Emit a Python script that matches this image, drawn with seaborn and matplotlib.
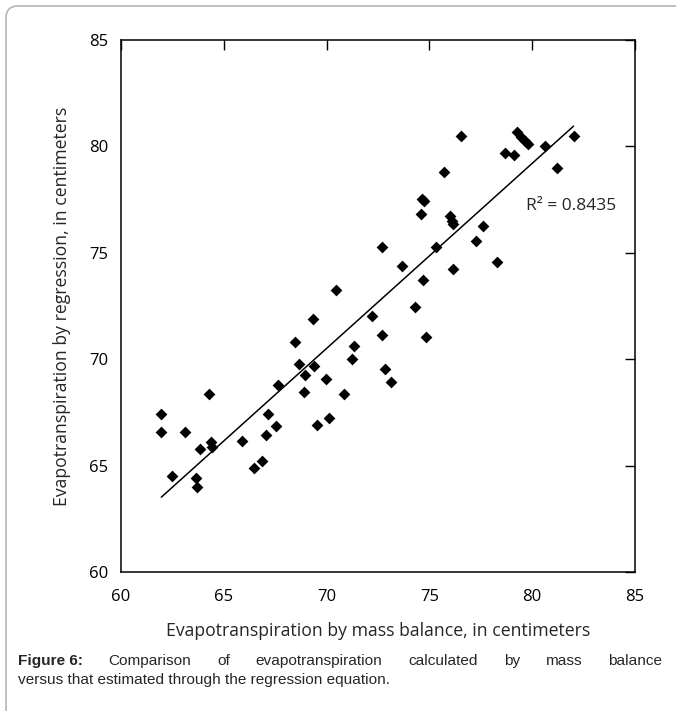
import numpy as np
import pandas as pd
import seaborn as sns
import matplotlib.pyplot as plt
from matplotlib.patches import FancyBboxPatch

# values (cm)
mass_balance = [61.96, 61.96, 62.46, 63.10, 63.63, 63.72, 63.84, 64.27, 64.39, 64.42,
                65.90, 66.45, 66.85, 67.07, 67.15, 67.55, 67.65, 68.46, 68.66, 68.91,
                68.96, 69.33, 69.38, 69.55, 69.95, 70.12, 70.47, 70.84, 71.22, 71.34,
                72.23, 72.68, 72.68, 72.85, 73.13, 73.69, 74.32, 74.57, 74.62, 74.76,
                74.69, 74.82, 75.33, 75.70, 76.00, 76.08, 76.16, 76.15, 76.53, 77.25,
                77.59, 78.29, 78.68, 79.13, 79.25, 79.46, 79.63, 79.80, 80.64, 81.19,
                82.01]
regression = [67.43, 66.59, 64.50, 66.59, 64.41, 63.99, 65.79, 68.36, 66.12, 65.87,
              66.14, 64.87, 65.22, 66.46, 67.43, 66.88, 68.78, 70.79, 69.78, 68.44,
              69.24, 71.91, 69.70, 66.93, 69.08, 67.23, 73.27, 68.36, 70.03, 70.62,
              72.01, 75.29, 71.12, 69.56, 68.94, 74.40, 72.47, 76.83, 77.55, 77.42,
              73.72, 71.04, 75.27, 78.81, 76.71, 76.49, 76.33, 74.26, 80.47, 75.57,
              76.24, 74.56, 79.70, 79.60, 80.69, 80.44, 80.27, 80.10, 80.02, 78.98,
              80.47]
r2_text = "R\u00b2 = 0.8435"
ticks = [60, 65, 70, 75, 80, 85]

df = pd.DataFrame({"mass": mass_balance, "regr": regression})

sns.set_theme(style="white")
plt.rcParams["font.family"] = ["Open Sans", "DejaVu Sans"]

fig = plt.figure(figsize=(6.76, 7.11), dpi=100)
ax = fig.add_axes([121 / 676, 139 / 711, 514 / 676, 532 / 711])

sns.regplot(data=df, x="mass", y="regr", ax=ax, ci=None, truncate=True, marker="D",
            scatter_kws=dict(s=36, color="black", linewidths=0, alpha=1),
            line_kws=dict(color="black", lw=1.1))

ax.set_xlim(60, 85)
ax.set_ylim(60, 85)
ax.set_xticks(ticks)
ax.set_yticks(ticks)
for sp in ax.spines.values():
    sp.set_color("black")
    sp.set_linewidth(1.1)
ax.tick_params(direction="in", length=7, width=1, color="black", labelsize=12,
               top=True, right=True, labelcolor="black")
ax.tick_params(axis="x", pad=12.5)
ax.tick_params(axis="y", pad=9)

ax.set_xlabel("Evapotranspiration by mass balance, in centimeters", fontsize=12.7, labelpad=12)
ax.set_ylabel("Evapotranspiration by regression, in centimeters", fontsize=12.7, labelpad=13)

ax.text(79.68, 77.2, r2_text, fontsize=12.5, va="center", ha="left")

# caption, first line justified
fig.canvas.draw()
rend = fig.canvas.get_renderer()
cap = "Liberation Sans"
words = [("Figure 6:", "bold")] + [(w, "normal") for w in
         "Comparison of evapotranspiration calculated by mass balance".split()]
x0, x1, y1 = 18, 662, 711 - 661
arts = []
for w, wt in words:
    t = fig.text(0, y1 / 711, w, fontsize=11.1, family=cap, weight=wt, va="center")
    arts.append(t)
widths = [a.get_window_extent(rend).width for a in arts]
gap = (x1 - x0 - sum(widths)) / (len(arts) - 1)
xp = x0
for a, wd in zip(arts, widths):
    a.set_x(xp / 676)
    xp += wd + gap
fig.text(x0 / 676, (711 - 680) / 711, "versus that estimated through the regression equation.",
         fontsize=11.1, family=cap, va="center")

# page frame
frame = FancyBboxPatch((0.06, -0.5), 8.0, 7.05 + 0.5, boxstyle="round,pad=0,rounding_size=0.12",
                       transform=fig.dpi_scale_trans, fill=False, edgecolor="#b5b5b5", lw=1.2)
fig.add_artist(frame)

fig.savefig("out.png", dpi=100)
